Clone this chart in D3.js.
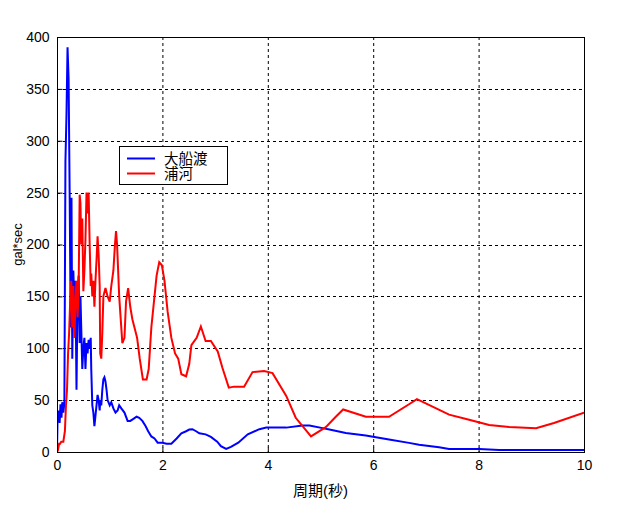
<!DOCTYPE html>
<html><head><meta charset="utf-8">
<script src="https://cdn.jsdelivr.net/npm/d3@7"></script>
<style>body{margin:0;background:#fff}svg{display:block}text{font-family:Arial,"Liberation Sans","Noto Sans CJK JP",sans-serif}</style>
</head><body>
<script>
const seriesNames = ["大船渡", "浦河"];
const seriesColors = ["#0000ff", "#ff0000"];
const xTicks = [0, 2, 4, 6, 8, 10];
const yTicks = [0, 50, 100, 150, 200, 250, 300, 350, 400];

const periodA = [0,0.01,0.03,0.05,0.066,0.085,0.10,0.12,0.14,0.16,0.18,0.20,0.22,0.24,0.26,0.275,0.29,0.31,0.33,0.35,0.37,0.39,0.41,0.43,0.445,0.46,0.48,0.50,0.52,0.54,0.56,0.58,0.60,0.62,0.64,0.65,0.67,0.69,0.71,0.73,0.75,0.77,0.79,0.81,0.82,0.84,0.86,0.88,0.90,0.92,0.94,0.96,1.00,1.03,1.07,1.11,1.15,1.18,1.22,1.28,1.34,1.39,1.45,1.51,1.56,1.62,1.68,1.73,1.79,1.85,1.91,2.00,2.08,2.17,2.27,2.36,2.45,2.51,2.57,2.64,2.70,2.82,2.92,3.04,3.11,3.21,3.30,3.44,3.62,3.84,3.97,4.35,4.66,4.79,5.04,5.17,5.48,5.86,6.30,6.68,6.87,7.25,7.44,8.01,8.39,10];
const valueA = [0,30,40,28,46,33,48,38,47,280,325,390,360,250,120,245,90,175,140,165,60,150,170,105,150,120,80,100,110,80,105,95,108,100,110,80,45,38,25,35,45,55,50,40,50,45,60,70,72,68,60,50,45,48,42,38,40,45,42,38,30,30,32,34,33,30,25,20,15,13,9,9,8,8,13,18,20,21.6,22,20,18,17,14.6,10,5.6,3,5,9,17,22,23.5,23.5,25.5,25.5,23,21.6,18.4,16,12,8.8,7,4.5,3,3,2,2];

const periodB = [0,0.02,0.04,0.06,0.08,0.12,0.15,0.17,0.19,0.21,0.23,0.25,0.27,0.29,0.31,0.33,0.35,0.37,0.39,0.41,0.43,0.445,0.46,0.48,0.50,0.52,0.54,0.56,0.58,0.60,0.62,0.64,0.65,0.67,0.69,0.71,0.73,0.75,0.77,0.79,0.81,0.82,0.84,0.86,0.88,0.92,0.96,1.00,1.03,1.07,1.10,1.12,1.14,1.18,1.24,1.28,1.31,1.35,1.39,1.43,1.47,1.52,1.57,1.63,1.70,1.74,1.79,1.85,1.89,1.94,1.99,2.04,2.10,2.17,2.24,2.30,2.36,2.45,2.51,2.55,2.65,2.73,2.82,2.92,3.05,3.14,3.26,3.36,3.55,3.71,3.93,4.09,4.35,4.53,4.82,5.10,5.29,5.43,5.86,6.30,6.68,6.83,7.44,7.82,8.20,8.58,9.09,9.43,10];
const valueB = [0,2,8,8,10,10,20,45,60,95,115,145,165,120,160,110,145,165,130,155,248,240,200,225,155,175,205,250,230,250,200,160,172,150,165,140,165,185,208,190,160,95,90,115,150,158,150,145,160,175,200,213,200,150,105,110,145,158,140,128,120,110,90,70,70,80,120,150,170,183,180,165,135,110,95,90,75,73,85,103,110,121,107,107,97,81,62,63,63,77,78,76,54,33,15,24,34,41,34,34,46,51,36,31,26,24,23,28,38];

const W = 621, H = 509;
const L = 57, R = 584, T = 37, B = 452;
const svg = d3.select("body").append("svg").attr("width", W).attr("height", H);
const x = d3.scaleLinear().domain([0, 10]).range([L, R]);
const y = d3.scaleLinear().domain([0, 400]).range([B, T]);

// grid
const g = svg.append("g");
g.selectAll(".vg").data(xTicks.slice(1, -1)).enter().append("line")
  .attr("x1", d => x(d) + 0.5).attr("x2", d => x(d) + 0.5).attr("y1", T).attr("y2", B)
  .attr("stroke", "#000").attr("stroke-width", 1).attr("stroke-dasharray", "3,3");
g.selectAll(".hg").data(yTicks.slice(1, -1)).enter().append("line")
  .attr("y1", d => Math.round(y(d)) + 0.5).attr("y2", d => Math.round(y(d)) + 0.5).attr("x1", L).attr("x2", R)
  .attr("stroke", "#000").attr("stroke-width", 1).attr("stroke-dasharray", "3,3");

// axes
const xAxis = d3.axisBottom(x).tickValues(xTicks).tickSize(-5).tickPadding(8).tickFormat(d3.format("d"));
const yAxis = d3.axisLeft(y).tickValues(yTicks).tickSize(-5).tickPadding(8);
const ax = svg.append("g").attr("transform", `translate(0,${B + 0.5})`).call(xAxis);
const ay = svg.append("g").attr("transform", `translate(${L + 0.5},0)`).call(yAxis);
[ax, ay].forEach(a => {
  a.select(".domain").remove();
  a.selectAll("text").attr("font-size", 14).attr("fill", "#000");
});
ay.selectAll(".tick line").attr("stroke", "#000");
ax.selectAll(".tick line").attr("stroke", "#000");

// lines
svg.append("clipPath").attr("id", "c").append("rect").attr("x", L).attr("y", T - 2).attr("width", R - L).attr("height", B - T + 2);
const line = d3.line().x(d => x(d[0])).y(d => y(d[1]));
const dataA = periodA.map((p, i) => [p, valueA[i]]);
const dataB = periodB.map((p, i) => [p, valueB[i]]);
svg.append("path").datum(dataA).attr("d", line).attr("fill", "none").attr("stroke", seriesColors[0]).attr("stroke-width", 2).attr("clip-path", "url(#c)");
svg.append("path").datum(dataB).attr("d", line).attr("fill", "none").attr("stroke", seriesColors[1]).attr("stroke-width", 2).attr("clip-path", "url(#c)");

// frame
svg.append("rect").attr("x", L + 0.5).attr("y", T + 0.5).attr("width", R - L).attr("height", B - T)
  .attr("fill", "none").attr("stroke", "#000").attr("stroke-width", 1);

// labels
svg.append("text").attr("x", (L + R) / 2).attr("y", 496).attr("text-anchor", "middle")
  .attr("font-size", 15).attr("font-family", "'Noto Sans CJK JP',sans-serif").text("周期(秒)");
svg.append("text").attr("transform", `translate(22,${(T + B) / 2}) rotate(-90)`).attr("text-anchor", "middle")
  .attr("font-size", 13).text("gal*sec");

// legend
const lg = svg.append("g");
lg.append("rect").attr("x", 119.5).attr("y", 146.5).attr("width", 108).attr("height", 38)
  .attr("fill", "#fff").attr("stroke", "#000");
seriesNames.forEach((n, i) => {
  const yy = 158.5 + i * 15;
  lg.append("line").attr("x1", 127).attr("x2", 155).attr("y1", yy).attr("y2", yy)
    .attr("stroke", seriesColors[i]).attr("stroke-width", 2);
  lg.append("text").attr("x", 164).attr("y", yy + 5).attr("font-size", 14.5)
    .attr("font-family", "'Noto Sans CJK JP',sans-serif").text(n);
});
</script>
</body></html>
